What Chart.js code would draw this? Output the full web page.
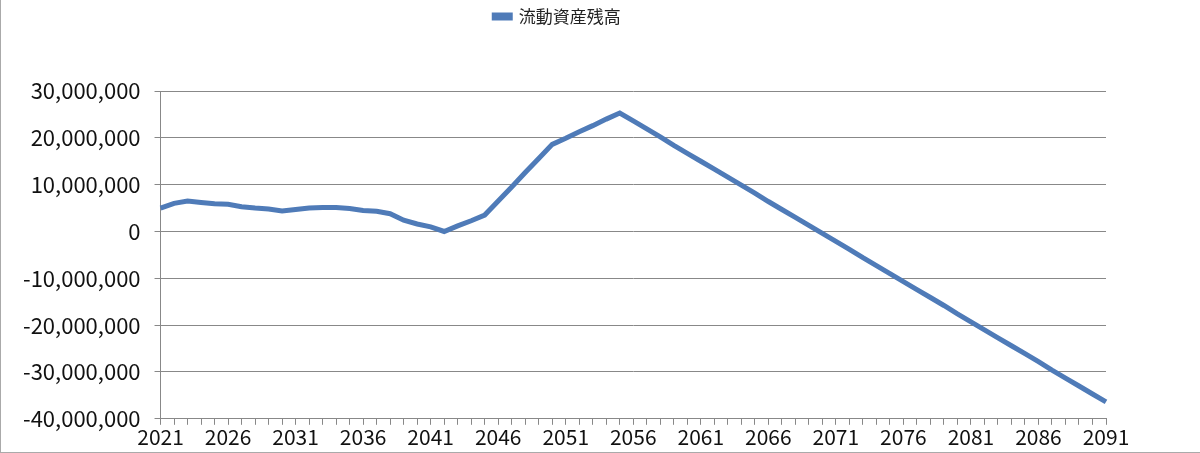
<!DOCTYPE html>
<html><head><meta charset="utf-8">
<script src="https://cdn.jsdelivr.net/npm/chart.js@4"></script>
<style>html,body{margin:0;padding:0;background:#fff}#w{width:1200px;height:453px;position:relative;box-sizing:border-box;border-left:1px solid #aaa;border-bottom:1px solid #aaa}</style>
</head><body><div id="w"><canvas id="c"></canvas></div>
<script>
const years = [];
for (let y = 2021; y <= 2091; y++) years.push(String(y));
const seriesName = '流動資産残高';
const balance = [
 5.0,6.0,6.5,6.2,5.9,5.8,5.3,5.0,4.8,4.4,
 4.7,5.0,5.1,5.1,4.9,4.5,4.3,3.8,2.4,1.6,
 1.0,0.0,1.2,2.3,3.5,6.5,9.5,12.6,15.6,18.6,
 19.9,21.3,22.6,24.0,25.3,23.6,21.9,20.2,18.4,16.7,
 15.0,13.3,11.6,9.9,8.2,6.4,4.7,3.0,1.3,-0.4,
 -2.1,-3.8,-5.6,-7.3,-9.0,-10.7,-12.4,-14.1,-15.8,-17.6,
 -19.3,-21.0,-22.7,-24.4,-26.1,-27.8,-29.6,-31.3,-33.0,-34.7,-36.4
].map(v => Math.round(v * 1e6));
const yTicks = [-40000000,-30000000,-20000000,-10000000,0,10000000,20000000,30000000];
const fam = '"Noto Sans CJK JP", "Noto Sans", sans-serif';
new Chart(document.getElementById('c'), {
  type: 'line',
  data: {labels: years, datasets: [{label: seriesName, data: balance, borderColor: '#4f7bb8', backgroundColor: '#4f7bb8', borderWidth: 5, pointRadius: 0, tension: 0}]},
  options: {
    responsive: true, maintainAspectRatio: false, animation: false,
    layout: {padding: {left: 8, right: 94, top: 0, bottom: 2}},
    plugins: {
      legend: {position: 'top', labels: {boxWidth: 16, boxHeight: 3, color: '#222', font: {family: fam, size: 17}, padding: 8}},
      tooltip: {enabled: false}
    },
    scales: {
      x: {offset: false,
        grid: {drawOnChartArea: false, color: '#888', tickLength: 6, tickColor: '#888'},
        border: {color: '#888'},
        ticks: {autoSkip: false, maxRotation: 0, color: '#111', font: {family: fam, size: 21}, padding: 0,
          callback: (v, i) => (i % 5 === 0 ? years[i] : '')}},
      y: {min: -40000000, max: 30000000,
        afterBuildTicks: s => { s.ticks = yTicks.map(v => ({value: v})); },
        grid: {color: '#888', tickLength: 6, tickColor: '#888'},
        border: {color: '#888'},
        ticks: {color: '#111', font: {family: fam, size: 22}, padding: 14, callback: v => v.toLocaleString('en-US')}}
    }
  },
  plugins: [{id: 'legendGap', beforeInit(chart) {
    const lg = chart.legend; const f = lg.fit;
    lg.fit = function () { f.call(lg); lg.height += 56; };
  }}]
});
</script></body></html>
